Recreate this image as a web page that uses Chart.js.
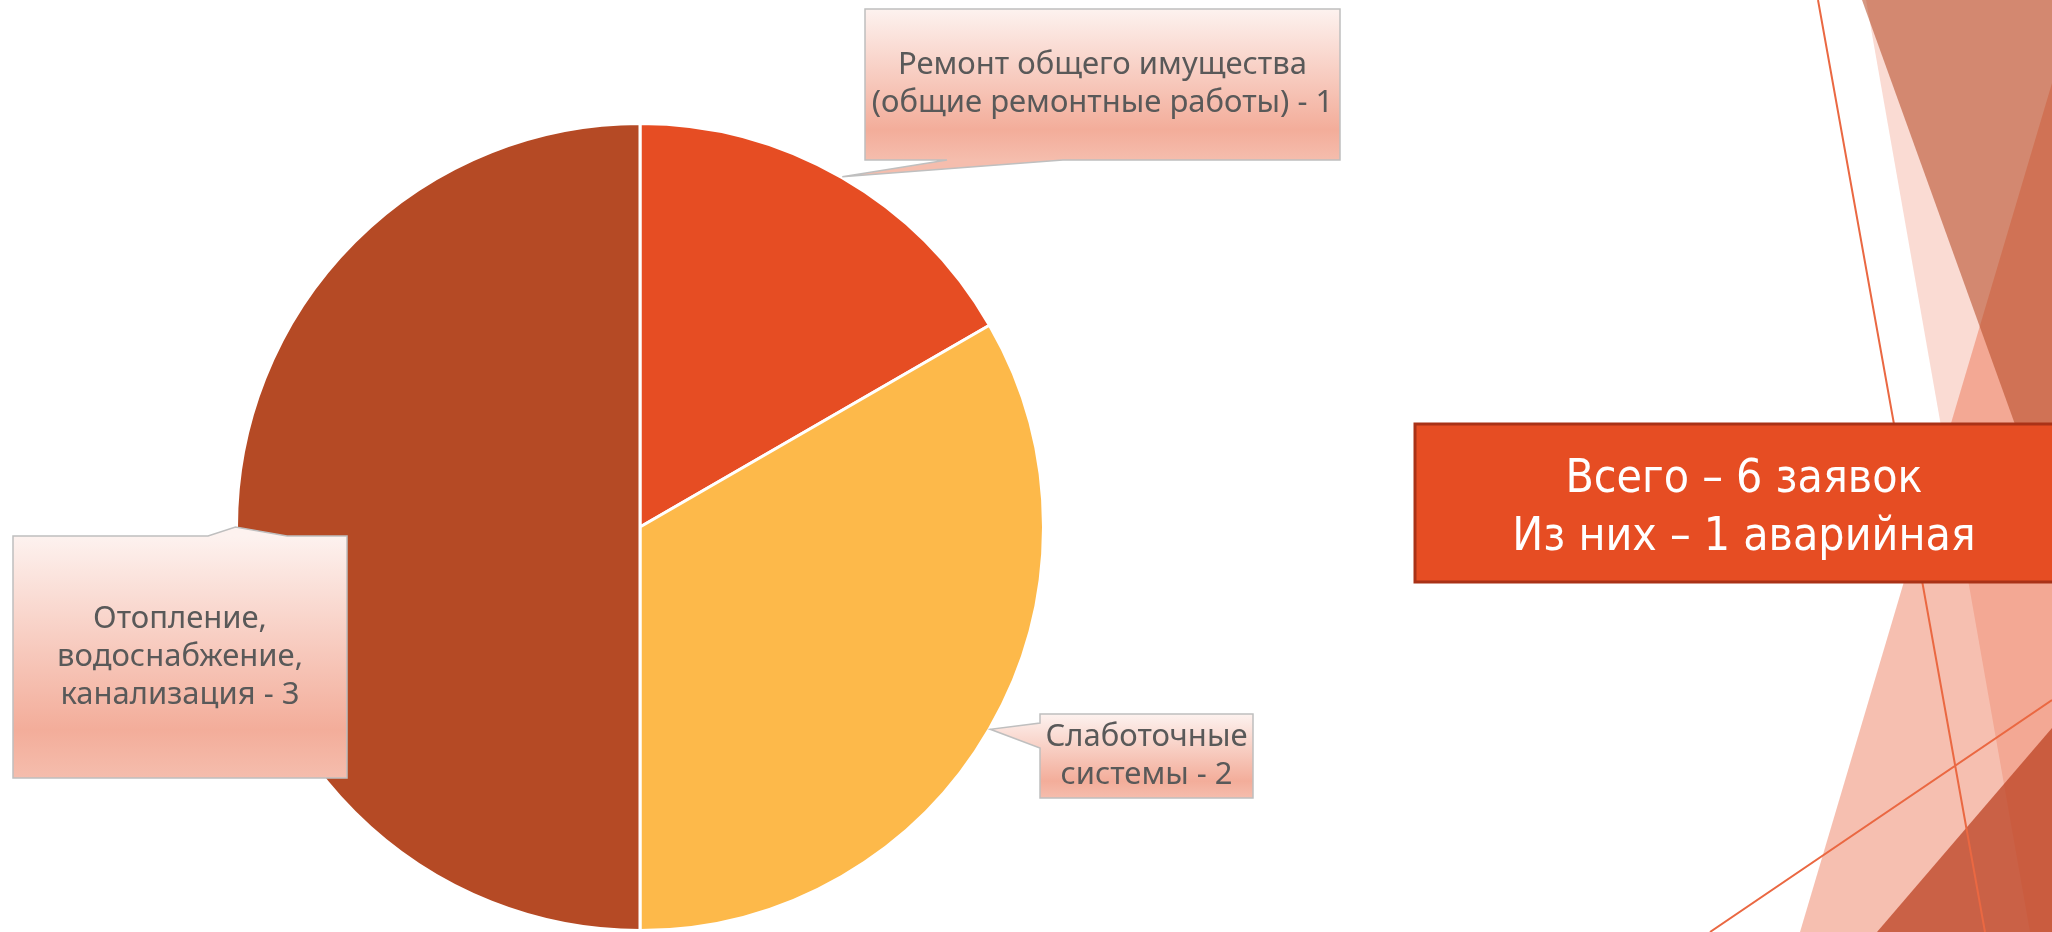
<!DOCTYPE html>
<html>
<head>
<meta charset="utf-8">
<script src="https://cdn.jsdelivr.net/npm/chart.js@4.4.1/dist/chart.umd.min.js"></script>
<style>
  html, body { margin: 0; padding: 0; background: #fff; overflow: hidden; }
  #wrap { width: 2052px; height: 932px; }
</style>
</head>
<body>
<div id="wrap"><canvas id="myChart" width="2052" height="932"></canvas></div>
<script>
// данные диаграммы
const categories = [
  ['Ремонт общего имущества', '(общие ремонтные работы)'],
  ['Слаботочные', 'системы'],
  ['Отопление,', 'водоснабжение,', 'канализация']
];
const counts = [1, 2, 3];
const sliceColors = ['#E64D23', '#FDB94A', '#B54A25'];
const summaryLines = ['Всего – 6 заявок', 'Из них – 1 аварийная'];

// рамки подписей (x, y, w, h) и сторона выноски
const calloutBoxes = [
  { x: 865, y: 9, w: 475, h: 151, side: 'bottom', a: 947, b: 1063 },
  { x: 1040, y: 714, w: 213, h: 84, side: 'left', a: 723, b: 748 },
  { x: 13, y: 536, w: 334, h: 242, side: 'top', a: 208, b: 287 }
];

let poly = (ctx, pts, fill) => {
  ctx.beginPath();
  ctx.moveTo(pts[0][0], pts[0][1]);
  for (let i = 1; i < pts.length; i++) ctx.lineTo(pts[i][0], pts[i][1]);
  ctx.closePath();
  ctx.fillStyle = fill;
  ctx.fill();
};

// фон в стиле темы (треугольники справа)
const background = {
  id: 'background',
  beforeDraw: (chart) => {
    const ctx = chart.ctx;
    ctx.save();
    ctx.fillStyle = '#fff';
    ctx.fillRect(0, 0, chart.width, chart.height);
    poly(ctx, [[1866, 0], [2052, 0], [2052, 932], [2030, 932]], 'rgba(230,77,35,0.2)');
    poly(ctx, [[2052, 83], [1800, 932], [2052, 932]], 'rgba(230,77,35,0.36)');
    poly(ctx, [[1862, 0], [2052, 0], [2052, 527]], 'rgba(181,74,37,0.57)');
    poly(ctx, [[1877, 932], [2052, 728], [2052, 932]], 'rgba(190,70,40,0.78)');
    ctx.strokeStyle = '#EA6842';
    ctx.lineWidth = 2;
    ctx.beginPath();
    ctx.moveTo(1818, 0); ctx.lineTo(1985, 932);
    ctx.moveTo(1710, 932); ctx.lineTo(2052, 700);
    ctx.stroke();
    ctx.restore();
  }
};

// выноски с подписями и блок с итогом
const callouts = {
  id: 'callouts',
  afterDraw: (chart) => {
    const ctx = chart.ctx;
    const arcs = chart.getDatasetMeta(0).data;
    ctx.save();
    arcs.forEach((arc, i) => {
      const p = arc.getProps(['x', 'y', 'startAngle', 'endAngle', 'outerRadius'], true);
      const mid = (p.startAngle + p.endAngle) / 2;
      const r = p.outerRadius + 1;
      const tip = [p.x + Math.cos(mid) * r, p.y + Math.sin(mid) * r];
      const b = calloutBoxes[i];
      let pts;
      if (b.side === 'bottom') {
        pts = [[b.x, b.y], [b.x + b.w, b.y], [b.x + b.w, b.y + b.h], [b.b, b.y + b.h], tip, [b.a, b.y + b.h], [b.x, b.y + b.h]];
      } else if (b.side === 'left') {
        pts = [[b.x, b.y], [b.x + b.w, b.y], [b.x + b.w, b.y + b.h], [b.x, b.y + b.h], [b.x, b.b], tip, [b.x, b.a]];
      } else {
        pts = [[b.x, b.y], [b.a, b.y], tip, [b.b, b.y], [b.x + b.w, b.y], [b.x + b.w, b.y + b.h], [b.x, b.y + b.h]];
      }
      const grad = ctx.createLinearGradient(0, b.y, 0, b.y + b.h);
      grad.addColorStop(0, '#FDF2EF');
      grad.addColorStop(0.8, '#F3AD9A');
      grad.addColorStop(1, '#F5BDAD');
      poly(ctx, pts, grad);
      ctx.strokeStyle = '#BFBFBF';
      ctx.lineWidth = 1.5;
      ctx.stroke();

      const lines = categories[i].slice();
      lines[lines.length - 1] += ' - ' + counts[i];
      ctx.fillStyle = '#595959';
      ctx.font = '31px "Noto Sans", sans-serif';
      ctx.textAlign = 'center';
      ctx.textBaseline = 'middle';
      const lh = 38;
      const cy = b.y + b.h / 2;
      lines.forEach((t, k) => {
        ctx.fillText(t, b.x + b.w / 2, cy + (k - (lines.length - 1) / 2) * lh);
      });
    });

    // итоговый блок
    ctx.fillStyle = '#E64D23';
    ctx.fillRect(1415, 424, 660, 158);
    ctx.strokeStyle = '#A93217';
    ctx.lineWidth = 3;
    ctx.strokeRect(1415, 424, 660, 158);
    ctx.fillStyle = '#fff';
    ctx.font = '46px "Liberation Sans Narrow", "DejaVu Sans Condensed", sans-serif';
    ctx.textAlign = 'center';
    ctx.textBaseline = 'alphabetic';
    ctx.fillText(summaryLines[0], 1744, 492);
    ctx.fillText(summaryLines[1], 1744, 550);
    ctx.restore();
  }
};

const ctx = document.getElementById('myChart');

const config = {
  type: 'pie',
  data: {
    labels: categories,
    datasets: [{
      data: counts,
      backgroundColor: sliceColors,
      borderColor: '#ffffff',
      borderWidth: 3
    }]
  },
  options: {
    responsive: false,
    animation: false,
    layout: { padding: { left: 234, right: 1006, top: 122, bottom: 0 } },
    plugins: {
      legend: { display: false },
      tooltip: { enabled: false }
    }
  },
  plugins: [background, callouts]
};

const chart = new Chart(ctx, config);
</script>
</body>
</html>
